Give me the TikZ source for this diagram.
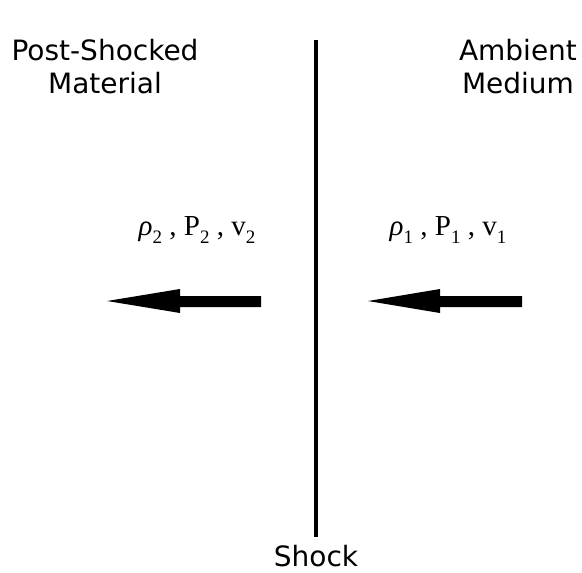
\documentclass[tikz,border=0pt]{standalone}
\usepackage{fontspec}
\setmainfont{DejaVu Sans}
\newfontfamily\tms{Liberation Serif}
\newcommand\subidx[1]{\raisebox{-0.25em}{\fontsize{19}{19}\selectfont #1}}
\begin{document}
\begin{tikzpicture}[x=1pt,y=-1pt,
  heading/.style={font=\fontsize{28}{33}\selectfont, align=center, inner sep=0pt},
  vars/.style={font=\tms\fontsize{29}{32}\selectfont, inner sep=0pt},
  flowarrow/.style={fill=black, draw=none}]
\useasboundingbox (0,0) rectangle (582,573);
\coordinate (shocktop) at (316,40);
\coordinate (shockbot) at (316,537);
\draw[line width=4pt] (shocktop) -- (shockbot);
\node[heading] (post) at (105,67) {Post-Shocked\\Material};
\node[heading] (amb) at (518,67) {Ambient\\Medium};
\node[heading, anchor=north] (shock) at (316,545) {Shock};
\node[vars] (v2) at (197,230) {{\itshape ρ}\subidx{2} , P\subidx{2} , v\subidx{2}};
\node[vars] (v1) at (448,230) {{\itshape ρ}\subidx{1} , P\subidx{1} , v\subidx{1}};
\fill[flowarrow] (261,296) -- (180,296) -- (180,289) -- (107,301) -- (180,313) -- (180,307) -- (261,307) -- cycle;
\fill[flowarrow] (522,296) -- (440,296) -- (440,289) -- (368,301) -- (440,313) -- (440,307) -- (522,307) -- cycle;
\end{tikzpicture}
\end{document}
